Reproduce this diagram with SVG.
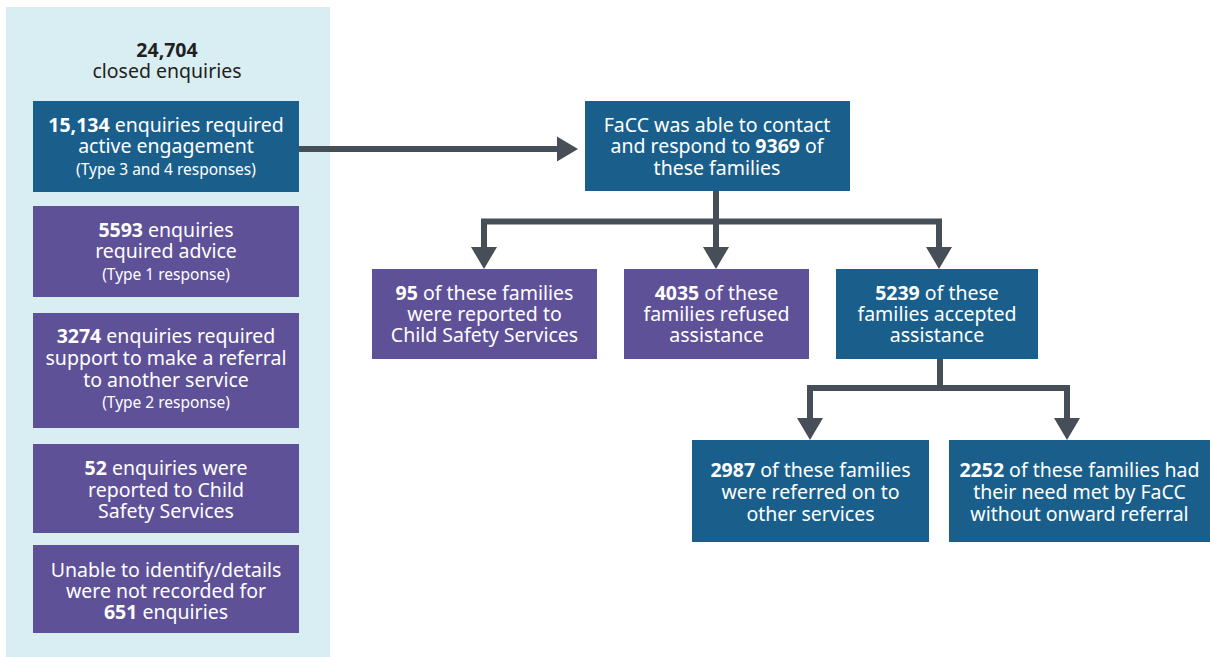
<svg xmlns="http://www.w3.org/2000/svg" width="1210" height="657" viewBox="0 0 1210 657">
<style>
text{font-family:"Noto Sans","Open Sans","Liberation Sans",sans-serif;font-size:19.5px;fill:#ffffff;text-anchor:middle}
.b{font-weight:bold}
.s{font-size:15.5px}
.hd{fill:#231f20}
.blue{fill:#1a5f8c}
.purple{fill:#5e5198}
.ln{stroke:#464e57;stroke-width:6;fill:none}
.ah{fill:#464e57}
</style>
<rect x="6" y="7" width="324" height="650" fill="#d9eef3"/>
<g id="header">
<text x="167" y="57" class="hd b">24,704</text>
<text x="167" y="78" class="hd">closed enquiries</text>
</g>
<g id="n15134">
<rect x="33" y="101" width="266" height="91" class="blue"/>
<text x="166" y="132"><tspan class="b">15,134</tspan> enquiries required</text>
<text x="166" y="153">active engagement</text>
<text x="166" y="175" class="s">(Type 3 and 4 responses)</text>
</g>
<g id="n5593">
<rect x="33" y="206" width="266" height="91" class="purple"/>
<text x="166" y="237"><tspan class="b">5593</tspan> enquiries</text>
<text x="166" y="258">required advice</text>
<text x="166" y="280" class="s">(Type 1 response)</text>
</g>
<g id="n3274">
<rect x="33" y="313" width="266" height="115" class="purple"/>
<text x="166" y="343"><tspan class="b">3274</tspan> enquiries required</text>
<text x="166" y="365">support to make a referral</text>
<text x="166" y="387">to another service</text>
<text x="166" y="408" class="s">(Type 2 response)</text>
</g>
<g id="n52">
<rect x="33" y="444" width="266" height="89" class="purple"/>
<text x="166" y="475"><tspan class="b">52</tspan> enquiries were</text>
<text x="166" y="497">reported to Child</text>
<text x="166" y="518">Safety Services</text>
</g>
<g id="n651">
<rect x="33" y="545" width="266" height="88" class="purple"/>
<text x="166" y="577">Unable to identify/details</text>
<text x="166" y="598">were not recorded for</text>
<text x="166" y="619"><tspan class="b">651</tspan> enquiries</text>
</g>
<g id="connectors">
<path class="ln" d="M299 149 H560"/>
<path class="ah" d="M557 136.5 L578 149 L557 161.5 Z"/>
<path class="ln" d="M716 191 V221.5 M484 221.5 H939 M484 218.5 V250 M716 221.5 V250 M939 218.5 V250"/>
<path class="ah" d="M471 247 L497 247 L484 269 Z M703 247 L729 247 L716 269 Z M926 247 L952 247 L939 269 Z"/>
<path class="ln" d="M940 359 V388 M810 388 H1067 M810 385 V420 M1067 385 V420"/>
<path class="ah" d="M797 418 L823 418 L810 440 Z M1054 418 L1080 418 L1067 440 Z"/>
</g>
<g id="facc">
<rect x="585" y="101" width="265" height="90" class="blue"/>
<text x="717" y="132">FaCC was able to contact</text>
<text x="717" y="153">and respond to <tspan class="b">9369</tspan> of</text>
<text x="717" y="175">these families</text>
</g>
<g id="n95">
<rect x="372" y="269" width="225" height="90" class="purple"/>
<text x="484.5" y="300"><tspan class="b">95</tspan> of these families</text>
<text x="484.5" y="321">were reported to</text>
<text x="484.5" y="342">Child Safety Services</text>
</g>
<g id="n4035">
<rect x="624" y="269" width="185" height="90" class="purple"/>
<text x="716.5" y="300"><tspan class="b">4035</tspan> of these</text>
<text x="716.5" y="321">families refused</text>
<text x="716.5" y="342">assistance</text>
</g>
<g id="n5239">
<rect x="836" y="269" width="202" height="90" class="blue"/>
<text x="937" y="300"><tspan class="b">5239</tspan> of these</text>
<text x="937" y="321">families accepted</text>
<text x="937" y="342">assistance</text>
</g>
<g id="n2987">
<rect x="692" y="440" width="237" height="102" class="blue"/>
<text x="810.5" y="477"><tspan class="b">2987</tspan> of these families</text>
<text x="810.5" y="499">were referred on to</text>
<text x="810.5" y="521">other services</text>
</g>
<g id="n2252">
<rect x="949" y="440" width="261" height="102" class="blue"/>
<text x="1079.5" y="477"><tspan class="b">2252</tspan> of these families had</text>
<text x="1079.5" y="499">their need met by FaCC</text>
<text x="1079.5" y="521">without onward referral</text>
</g>
</svg>
